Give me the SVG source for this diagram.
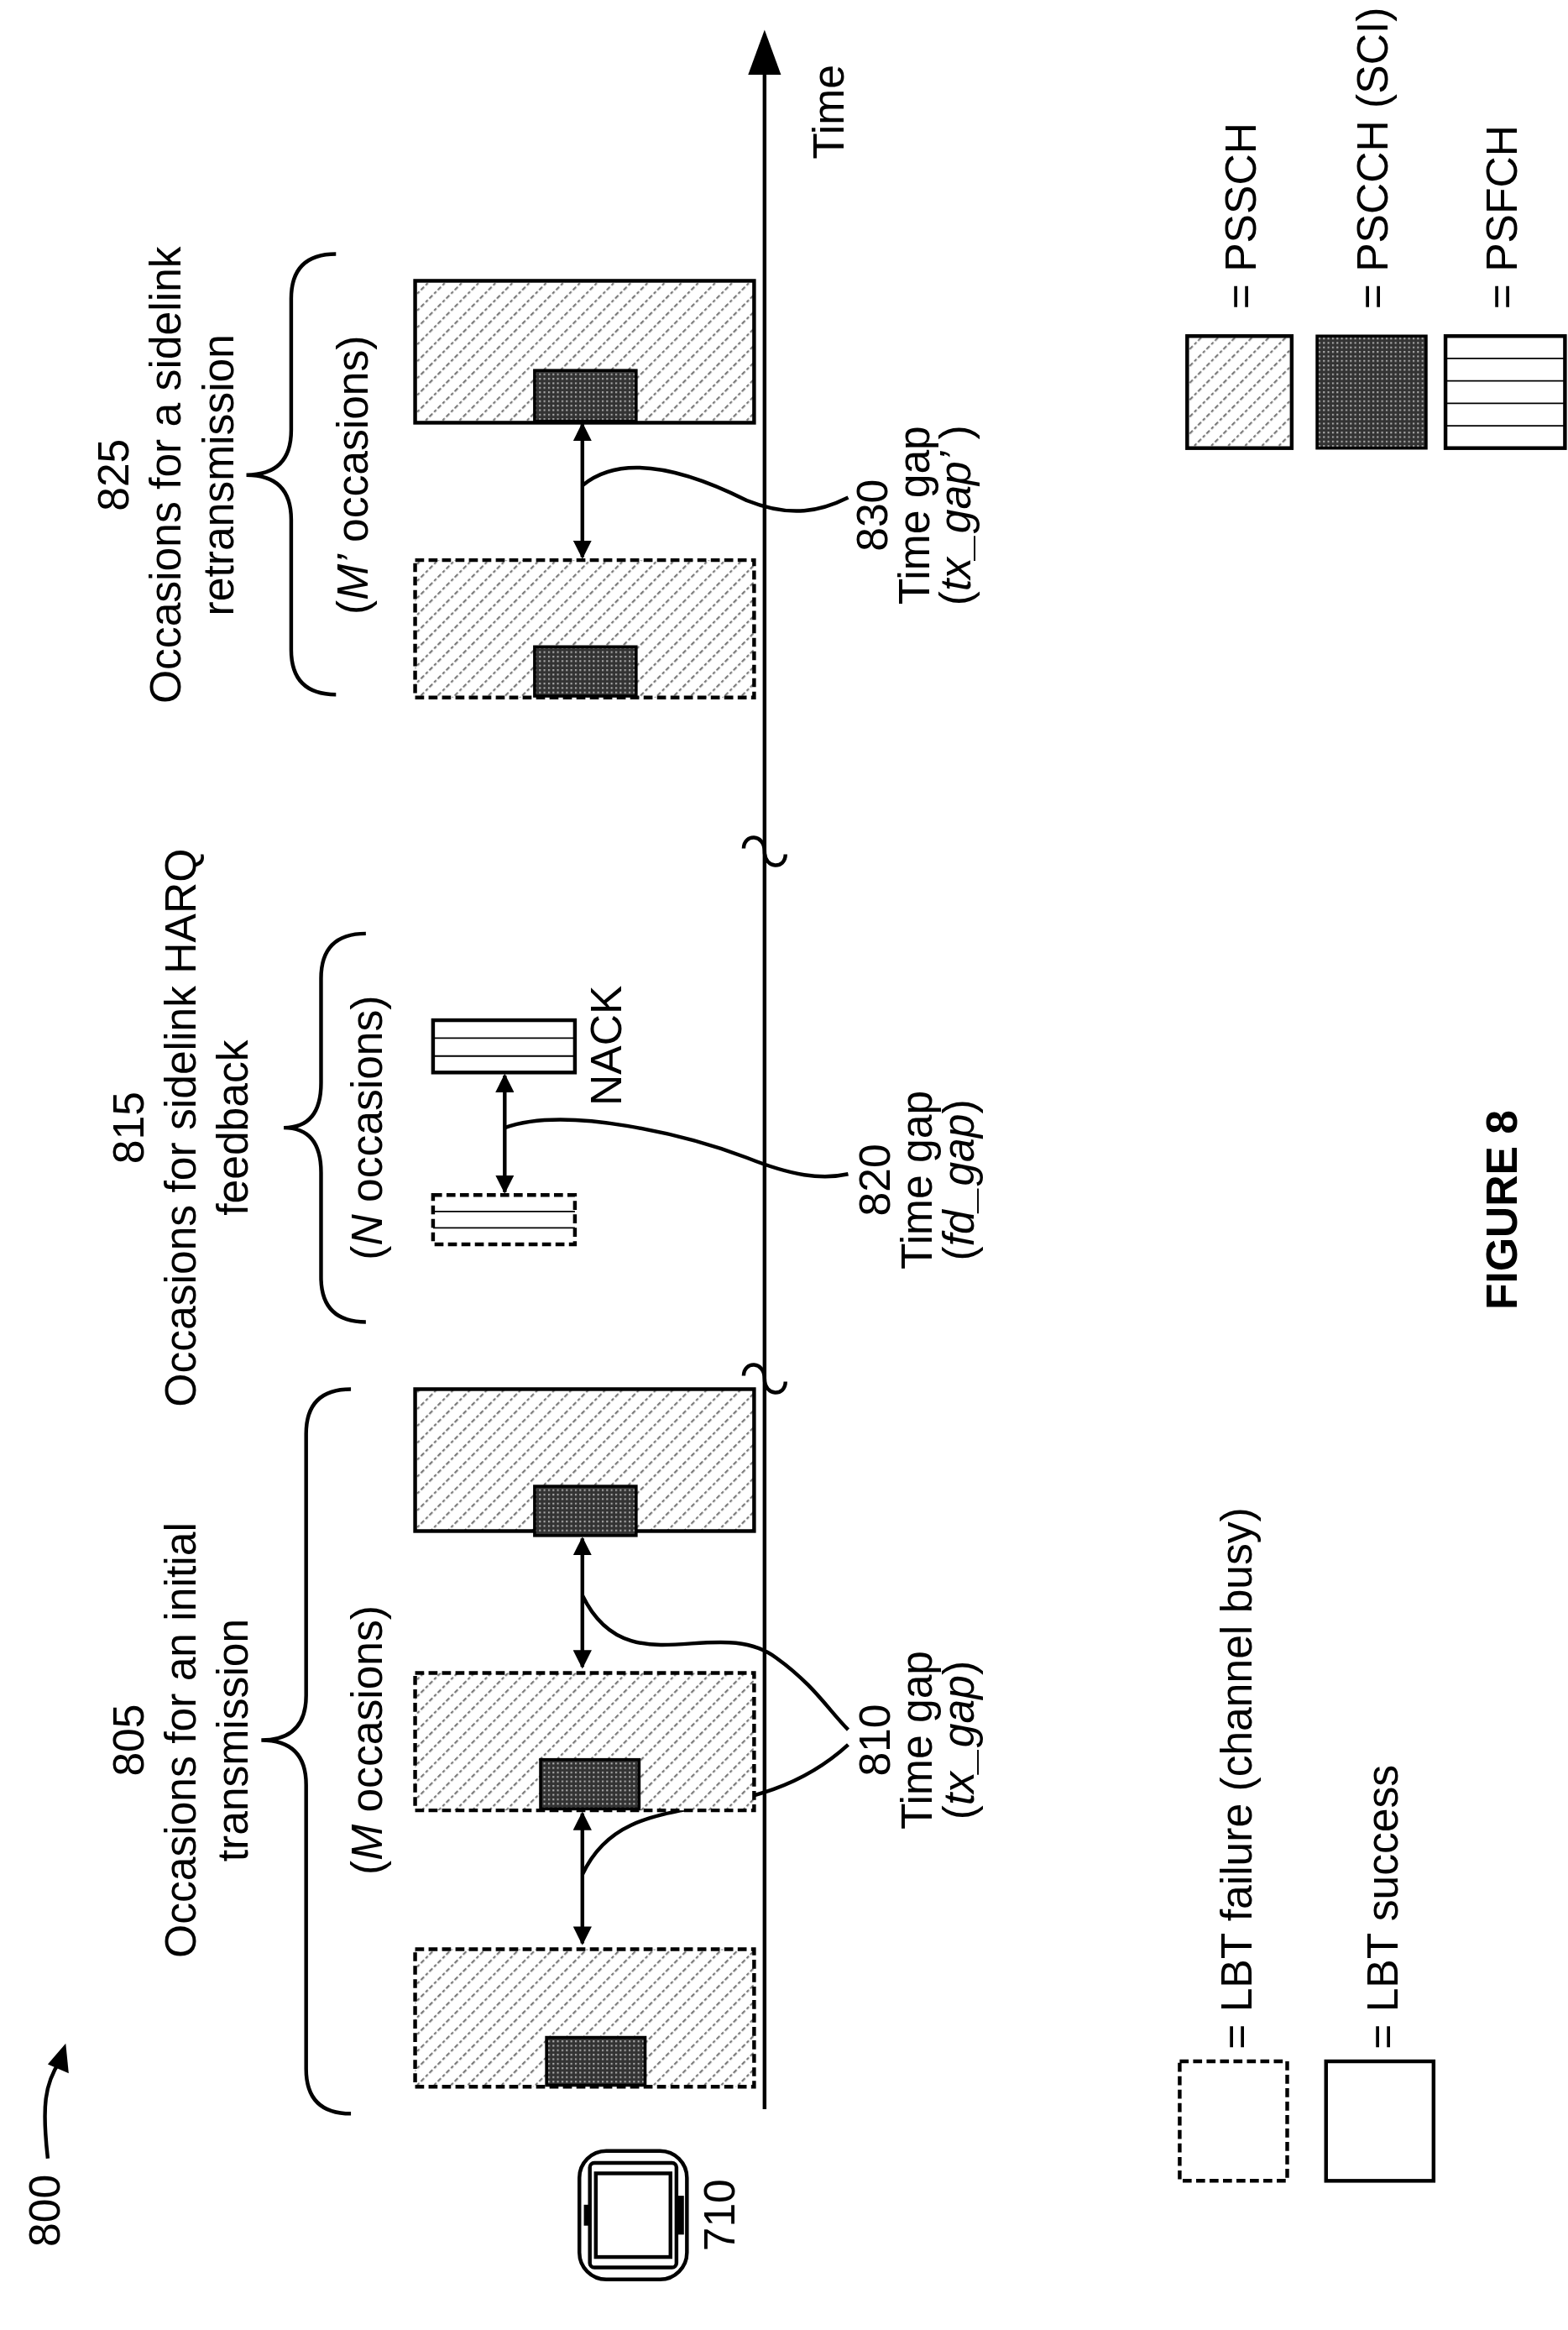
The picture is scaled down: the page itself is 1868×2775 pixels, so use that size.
<svg xmlns="http://www.w3.org/2000/svg" width="1868" height="2775" viewBox="0 0 1868 2775">
<defs>
<pattern id="hatch" width="8" height="8" patternUnits="userSpaceOnUse" patternTransform="rotate(45)">
<rect width="8" height="8" fill="#fff"/>
<line x1="0" y1="0" x2="0" y2="8" stroke="#777" stroke-width="2.5" stroke-dasharray="2,1.5"/>
</pattern>
<pattern id="dots" width="3" height="3" patternUnits="userSpaceOnUse">
<rect width="3" height="3" fill="#333"/>
<rect x="1" y="1" width="1.2" height="1.2" fill="#aaa"/>
</pattern>
<marker id="ah" viewBox="0 0 10 10" refX="9" refY="5" markerWidth="5" markerHeight="5" orient="auto-start-reverse">
<path d="M0,0 L10,5 L0,10 z" fill="#000"/>
</marker>
<style>
text{font-family:"Liberation Sans",Arial,sans-serif;font-size:29px;fill:#000}
.b{fill:url(#hatch);stroke:#000;stroke-width:2.5}
.d{stroke-dasharray:6,3}
.s{fill:url(#dots);stroke:#000;stroke-width:2}
.f{fill:#fff;stroke:#000;stroke-width:2.5}
.ln{fill:none;stroke:#000;stroke-width:2.5}
.th{stroke:#000;stroke-width:1}
</style>
</defs>
<g transform="scale(1.779)">
<g id="connectors">
<line x1="512" y1="1412" x2="512" y2="30" stroke="#000" stroke-width="2.5"/>
<path d="M512,20 L501,50 L523,50 z" fill="#000"/>
<path d="M498,568 C498,558 512,558 512,570 C512,582 526,582 526,572" class="ln"/>
<path d="M498,921 C498,911 512,911 512,923 C512,935 526,935 526,925" class="ln"/>
<line x1="390" y1="1214" x2="390" y2="1301" class="ln" marker-start="url(#ah)" marker-end="url(#ah)"/>
<line x1="390" y1="1030" x2="390" y2="1116" class="ln" marker-start="url(#ah)" marker-end="url(#ah)"/>
<line x1="390" y1="284" x2="390" y2="373" class="ln" marker-start="url(#ah)" marker-end="url(#ah)"/>
<line x1="338" y1="720" x2="338" y2="798" class="ln" marker-start="url(#ah)" marker-end="url(#ah)"/>
<path d="M390,1068 C420,1130 480,1080 520,1110 C545,1128 555,1145 568,1158" class="ln"/>
<path d="M390,1255 C420,1190 500,1230 568,1168" class="ln"/>
<path d="M338,755 C380,740 460,760 500,775 C530,787 550,790 568,786" class="ln"/>
<path d="M390,325 C420,300 470,320 500,335 C530,347 550,342 568,333" class="ln"/>
<path d="M235,930 Q205,930 205,960 L205,1135 Q205,1165 175,1165 Q205,1165 205,1195 L205,1385 Q205,1415 235,1415" class="ln"/>
<path d="M245,625 Q215,625 215,655 L215,725 Q215,755 190,755 Q215,755 215,785 L215,855 Q215,885 245,885" class="ln"/>
<path d="M225,170 Q195,170 195,200 L195,288 Q195,318 165,318 Q195,318 195,348 L195,435 Q195,465 225,465" class="ln"/>
<path d="M32,1445 C28,1410 30,1395 40,1380" class="ln"/>
<path d="M44,1368 L32,1382 L46,1388 z" fill="#000"/>
</g>
<g id="occ805">
<rect x="278" y="1305" width="227" height="92" class="b d"/>
<rect x="366" y="1364" width="66" height="32" class="s"/>
<rect x="278" y="1120" width="227" height="92" class="b d"/>
<rect x="362" y="1178" width="66" height="33" class="s"/>
<rect x="278" y="930" width="227" height="95" class="b"/>
<rect x="358" y="995" width="68" height="33" class="s"/>
</g>
<g id="occ815">
<rect x="290" y="800" width="95" height="33" class="f d"/>
<line x1="290" y1="811" x2="385" y2="811" class="th"/><line x1="290" y1="822" x2="385" y2="822" class="th"/>
<rect x="290" y="683" width="95" height="35" class="f"/>
<line x1="290" y1="695" x2="385" y2="695" class="th"/><line x1="290" y1="707" x2="385" y2="707" class="th"/>
</g>
<g id="occ825">
<rect x="278" y="188" width="227" height="95" class="b"/>
<rect x="358" y="248" width="68" height="34" class="s"/>
<rect x="278" y="375" width="227" height="92" class="b d"/>
<rect x="358" y="433" width="68" height="33" class="s"/>
</g>
<g id="legend">
<rect x="790" y="1380" width="72" height="80" class="f d"/>
<rect x="888" y="1380" width="72" height="80" class="f"/>
<rect x="795" y="225" width="70" height="75" class="b"/>
<rect x="882" y="225" width="73" height="75" class="s"/>
<rect x="968" y="225" width="80" height="75" class="f"/>
<line x1="968" y1="240" x2="1048" y2="240" class="th"/><line x1="968" y1="255" x2="1048" y2="255" class="th"/><line x1="968" y1="270" x2="1048" y2="270" class="th"/><line x1="968" y1="285" x2="1048" y2="285" class="th"/>
</g>
<g id="phone">
<rect x="388" y="1440" width="72" height="86" rx="18" class="ln" stroke-width="3"/>
<rect x="395" y="1448" width="58" height="70" rx="3" class="ln" stroke-width="1.5"/>
<rect x="399" y="1455" width="50" height="56" class="ln" stroke-width="3"/>
<rect x="391" y="1476" width="4" height="14" fill="#000"/>
<rect x="454" y="1470" width="4" height="26" fill="#000"/>
</g>
<g id="texts">
<text transform="translate(40,1480) rotate(-90)" text-anchor="middle">800</text>
<text transform="translate(492,1483) rotate(-90)" text-anchor="middle">710</text>
<text transform="translate(565,75) rotate(-90)" text-anchor="middle">Time</text>
<text transform="translate(96,1165) rotate(-90)" text-anchor="middle">805</text>
<text transform="translate(131,1165) rotate(-90)" text-anchor="middle">Occasions for an initial</text>
<text transform="translate(166,1165) rotate(-90)" text-anchor="middle">transmission</text>
<text transform="translate(256,1165) rotate(-90)" text-anchor="middle">(<tspan font-style="italic">M</tspan> occasions)</text>
<text transform="translate(96,755) rotate(-90)" text-anchor="middle">815</text>
<text transform="translate(131,755) rotate(-90)" text-anchor="middle">Occasions for sidelink HARQ</text>
<text transform="translate(166,755) rotate(-90)" text-anchor="middle">feedback</text>
<text transform="translate(256,755) rotate(-90)" text-anchor="middle">(<tspan font-style="italic">N</tspan> occasions)</text>
<text transform="translate(416,700) rotate(-90)" text-anchor="middle">NACK</text>
<text transform="translate(86,318) rotate(-90)" text-anchor="middle">825</text>
<text transform="translate(121,318) rotate(-90)" text-anchor="middle">Occasions for a sidelink</text>
<text transform="translate(156,318) rotate(-90)" text-anchor="middle">retransmission</text>
<text transform="translate(246,318) rotate(-90)" text-anchor="middle">(<tspan font-style="italic">M’</tspan> occasions)</text>
<text transform="translate(596,1165) rotate(-90)" text-anchor="middle">810</text>
<text transform="translate(624,1165) rotate(-90)" text-anchor="middle">Time gap</text>
<text transform="translate(652,1165) rotate(-90)" text-anchor="middle">(<tspan font-style="italic">tx_gap</tspan>)</text>
<text transform="translate(596,790) rotate(-90)" text-anchor="middle">820</text>
<text transform="translate(624,790) rotate(-90)" text-anchor="middle">Time gap</text>
<text transform="translate(652,790) rotate(-90)" text-anchor="middle">(<tspan font-style="italic">fd_gap</tspan>)</text>
<text transform="translate(594,345) rotate(-90)" text-anchor="middle">830</text>
<text transform="translate(622,345) rotate(-90)" text-anchor="middle">Time gap</text>
<text transform="translate(650,345) rotate(-90)" text-anchor="middle">(<tspan font-style="italic">tx_gap’</tspan> )</text>
<text transform="translate(838,1372) rotate(-90)">= LBT failure (channel busy)</text>
<text transform="translate(936,1372) rotate(-90)">= LBT success</text>
<text transform="translate(841,207) rotate(-90)">= PSSCH</text>
<text transform="translate(929,207) rotate(-90)">= PSCCH (SCI)</text>
<text transform="translate(1016,207) rotate(-90)">= PSFCH</text>
<text transform="translate(1016,810) rotate(-90)" text-anchor="middle" font-weight="bold" font-size="40">FIGURE 8</text>
</g>
</g>
</svg>
